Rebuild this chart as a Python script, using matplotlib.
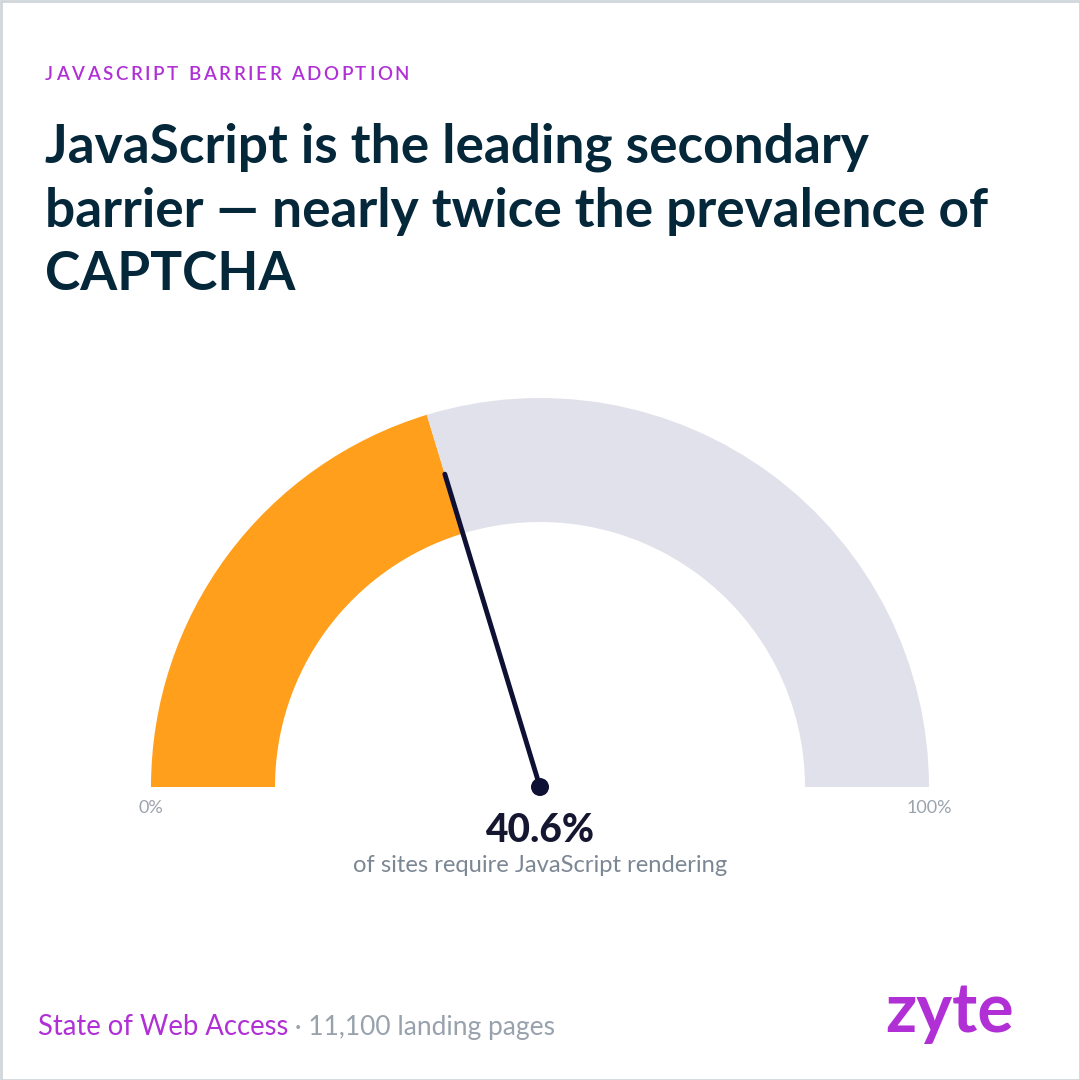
import numpy as np
import matplotlib
matplotlib.use("Agg")
import matplotlib.pyplot as plt
from matplotlib.patches import Wedge, Rectangle, Circle

eyebrow = "JAVASCRIPT BARRIER ADOPTION"
title_lines = ["JavaScript is the leading secondary", "barrier — nearly twice the prevalence of", "CAPTCHA"]
value = 40.6
value_label = "40.6%"
sub_label = "of sites require JavaScript rendering"
min_label = "0%"
max_label = "100%"
foot_a = "State of Web Access"
foot_b = " · 11,100 landing pages"
brand = "zyte"

plt.rcParams['font.family'] = ['Lato', 'DejaVu Sans']
fig = plt.figure(figsize=(10.8, 10.8), dpi=100, facecolor='white')
ax = fig.add_axes([0, 0, 1, 1])
ax.set_xlim(0, 1080); ax.set_ylim(1080, 0); ax.axis('off')
ax.add_patch(Rectangle((0.5, 0.5), 1079, 1079, fc='white', ec='#CFD6DA', lw=2))

cx, cy, R, r = 540, 787, 389, 265
split = 180 + 180 * value / 100
ax.add_patch(Wedge((cx, cy), R, 180, split, width=R - r, fc='#FF9F1C', ec='none'))
ax.add_patch(Wedge((cx, cy), R, split, 360, width=R - r, fc='#E1E1EB', ec='none'))
a = np.deg2rad(split)
L = 327
ax.plot([cx, cx + L * np.cos(a)], [cy, cy + L * np.sin(a)], color='#0E1133', lw=3.5, solid_capstyle='round')
ax.add_patch(Circle((cx, cy), 9, fc='#0E1133', ec='none', zorder=5))

def spaced_text(x, y, s, spacing, **kw):
    """Left-aligned text with extra letter spacing (px), one Text per glyph."""
    renderer = fig.canvas.get_renderer()
    for i, ch in enumerate(s):
        probe = ax.text(0, 0, s[:i] + '|', **kw)
        w_all = probe.get_window_extent(renderer).width
        probe.set_text('|')
        w_bar = probe.get_window_extent(renderer).width
        probe.remove()
        adv = w_all - w_bar if i else 0
        ax.text(x + adv + i * spacing, y, ch, ha='left', va='baseline', **kw)

dark = '#04273A'
spaced_text(45, 80, eyebrow, 2.65, color='#B030D6', fontsize=13.5, fontweight='semibold')
for line, y in zip(title_lines, [147, 211, 275]):
    ax.text(45, y, line, color=dark, fontsize=38.3, va='center', ha='left', fontweight='bold')
ax.text(151, 808, min_label, color='#9AA3AE', fontsize=13, ha='center', va='center')
ax.text(929, 808, max_label, color='#9AA3AE', fontsize=13, ha='center', va='center')
ax.text(540, 830, value_label, color='#14172F', fontsize=28, fontweight='black', ha='center', va='center')
ax.text(540, 866, sub_label, color='#7C8794', fontsize=17.1, ha='center', va='center')
t1 = ax.text(38, 1027, foot_a, color='#B030D6', fontsize=19.8, ha='left', va='center')
fig.canvas.draw()
bb = t1.get_window_extent()
ax.text(bb.x1, 1027, foot_b, color='#98A2AD', fontsize=19, ha='left', va='center')
ax.text(1014, 1012, brand, color='#B030D6', fontsize=49, fontweight='bold', ha='right', va='center')
fig.savefig('out.png', dpi=100)
